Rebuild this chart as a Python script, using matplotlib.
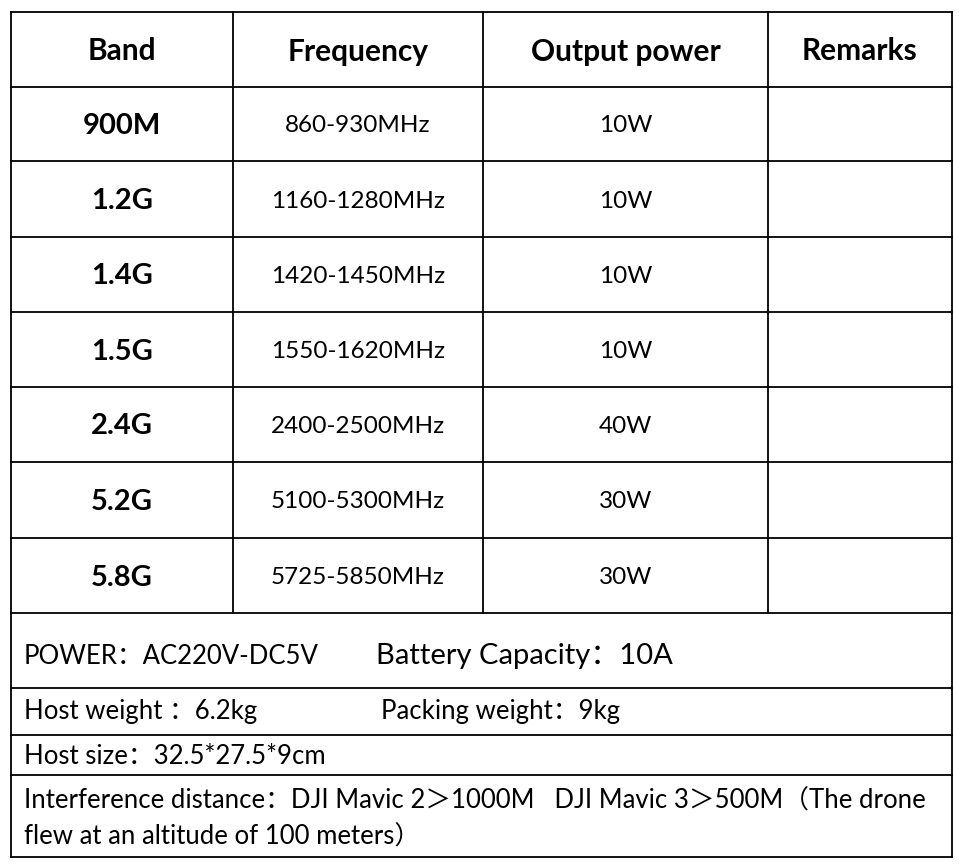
import matplotlib
matplotlib.use("Agg")
import matplotlib.pyplot as plt

plt.rcParams['font.family'] = ['Lato', 'Noto Sans CJK SC', 'DejaVu Sans']

headers = ["Band", "Frequency", "Output power", "Remarks"]
bands = ["900M", "1.2G", "1.4G", "1.5G", "2.4G", "5.2G", "5.8G"]
freqs = ["860-930MHz", "1160-1280MHz", "1420-1450MHz", "1550-1620MHz",
         "2400-2500MHz", "5100-5300MHz", "5725-5850MHz"]
powers = ["10W", "10W", "10W", "10W", "40W", "30W", "30W"]
remarks = [""] * 7

W, H = 959, 867
fig = plt.figure(figsize=(W / 100, H / 100), dpi=100)
ax = fig.add_axes([0, 0, 1, 1])
ax.set_xlim(0, W)
ax.set_ylim(H, 0)
ax.axis('off')

L, R = 11, 952
cols = [L, 233, 483, 768, R]
rows = [12, 87, 161, 237, 312, 387, 462, 538, 613]
extra = [688, 735, 775, 857]
lw = 1.3
for y in rows + extra:
    ax.plot([L, R], [y, y], color='black', lw=lw)
ax.plot([L, L], [rows[0], extra[-1]], color='black', lw=lw)
ax.plot([R, R], [rows[0], extra[-1]], color='black', lw=lw)
for x in cols[1:-1]:
    ax.plot([x, x], [rows[0], rows[-1]], color='black', lw=lw)

def cx(i):
    return (cols[i] + cols[i + 1]) / 2

for i, h in enumerate(headers):
    ax.text(cx(i), (rows[0] + rows[1]) / 2 + 2, h, ha='center', va='center',
            fontsize=21.5, fontweight='bold')
for r in range(len(bands)):
    yc = (rows[r + 1] + rows[r + 2]) / 2 + 2
    ax.text(cx(0), yc, bands[r], ha='center', va='center', fontsize=21, fontweight='bold')
    ax.text(cx(1), yc, freqs[r], ha='center', va='center', fontsize=17.5)
    ax.text(cx(2), yc, powers[r], ha='center', va='center', fontsize=17.5)
    ax.text(cx(3), yc, remarks[r], ha='center', va='center', fontsize=17.5)

tx = 24
fs = 18.5
ax.text(tx, 656, "POWER：AC220V-DC5V", ha='left', va='center', fontsize=fs)
ax.text(376, 656, "Battery Capacity：10A", ha='left', va='center', fontsize=21)
ax.text(tx, 712, "Host weight ：6.2kg", ha='left', va='center', fontsize=fs)
ax.text(381, 712, "Packing weight：9kg", ha='left', va='center', fontsize=fs)
ax.text(tx, 756, "Host size：32.5*27.5*9cm", ha='left', va='center', fontsize=fs)
ax.text(tx, 801, "Interference distance：DJI Mavic 2＞1000M   DJI Mavic 3＞500M（The drone",
        ha='left', va='center', fontsize=fs)
ax.text(tx, 837, "flew at an altitude of 100 meters）", ha='left', va='center', fontsize=fs)

fig.savefig("out.png", dpi=100, facecolor='white')
